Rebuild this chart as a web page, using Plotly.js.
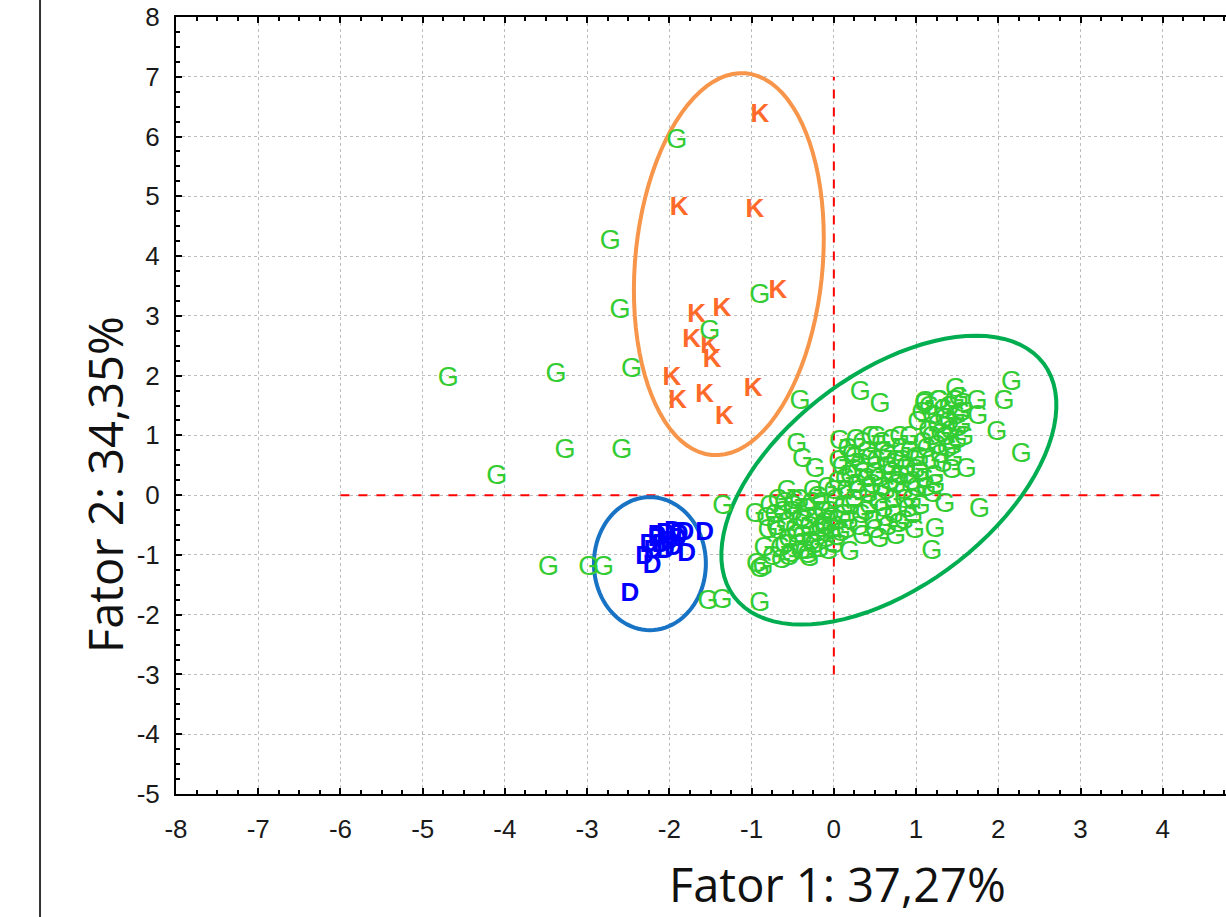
<!DOCTYPE html>
<html>
<head>
<meta charset="utf-8">
<script src="https://cdn.plot.ly/plotly-3.0.1.min.js"></script>
<style>
html,body{margin:0;padding:0;background:#fff;overflow:hidden;}
#chart{width:1300px;height:917px;}
</style>
</head>
<body>
<div id="chart"></div>
<script>
// ---- Data ----
const G_X = [
  -4.69,-3.38,-2.46,-4.10,-3.27,-2.58,-3.47,-2.98,-2.80,-2.72,-2.60,-1.91,-1.51,-0.90,
  -1.53,-1.36,-0.90,-0.94,-0.86,-1.35,-0.41,-0.45,-0.38,-0.23,0.07,0.32,0.56,
  2.16,2.07,1.98,2.28,1.77,1.61,1.35,1.23,1.19,1.75,1.74,1.48,1.27,1.11,
  -0.96,-0.90,0.19,-0.57,
  -0.72,-0.68,-0.65,-0.60,-0.58,-0.55,-0.52,-0.50,-0.47,-0.44,-0.42,-0.40,-0.38,-0.35,-0.33,
  -0.30,-0.28,-0.25,-0.22,-0.20,-0.18,-0.15,-0.12,-0.10,-0.08,-0.05,-0.03,0.00,0.02,0.05,
  0.05,0.08,0.10,0.12,0.15,0.18,0.20,0.22,0.25,0.28,0.30,0.32,0.35,0.38,0.40,0.42,0.45,
  0.48,0.50,0.52,0.55,0.58,0.60,0.62,0.65,0.68,0.70,0.72,0.75,0.78,0.80,0.82,0.85,0.88,
  0.90,0.92,0.95,0.98,1.00,
  1.02,1.05,1.08,1.10,1.12,1.15,1.18,1.20,1.22,1.25,1.28,1.30,1.32,1.35,1.38,1.40,1.42,
  1.45,1.48,1.50,1.52,1.55,1.58,
  -0.70,-0.62,-0.55,-0.48,-0.45,-0.36,-0.32,-0.27,-0.24,-0.16,-0.13,-0.07,-0.02,0.03,-0.60,
  -0.68,-0.40,-0.20,-0.10,0.00,
  0.06,0.10,0.14,0.17,0.20,0.24,0.27,0.30,0.33,0.36,0.40,0.43,0.46,0.50,0.52,0.55,0.58,0.60,
  0.63,0.66,0.70,0.73,0.76,0.80,0.83,0.86,0.90,0.93,0.96,0.99,0.45,0.25,0.65,0.85,0.15,0.35,
  0.55,0.75,0.95,1.00,
  1.04,1.07,1.10,1.13,1.16,1.19,1.23,1.26,1.29,1.33,1.36,1.40,1.44,1.47,1.50,1.54,1.57,1.43,
  1.20,1.05,
  -0.80,-0.85,-0.75,-0.78,-0.82,-0.64,-0.50,-0.30
];
const G_Y = [
  1.94,2.01,2.09,0.30,0.74,0.74,-1.22,-1.22,-1.22,4.23,3.08,5.92,2.73,3.33,
  -1.80,-1.77,-1.83,-1.17,-1.22,-0.20,1.56,0.84,0.59,0.42,0.89,1.71,1.51,
  1.87,1.56,1.03,0.67,-0.25,0.42,-0.17,-0.59,-0.95,1.30,1.56,1.75,1.56,1.54,
  -0.33,-1.25,-0.97,0.05,
  -0.35,-0.62,-0.90,-0.15,-0.48,-0.75,-1.00,-0.30,-0.58,-0.85,-0.10,-0.42,-0.70,-0.95,-0.25,
  -0.55,-0.80,0.05,-0.38,-0.65,-0.92,-0.15,-0.48,-0.75,0.10,-0.30,-0.60,-0.85,-0.10,-0.45,
  0.20,-0.65,0.45,-0.20,0.05,-0.45,0.30,0.65,-0.10,0.15,-0.55,0.50,0.85,-0.30,0.25,0.00,0.60,
  -0.45,0.35,0.95,-0.15,0.10,0.70,-0.40,0.45,0.20,0.90,-0.10,0.55,-0.50,0.30,0.75,0.05,0.45,
  -0.25,0.95,0.20,-0.60,0.60,
  1.20,0.35,0.85,1.50,0.10,1.05,0.55,1.30,0.30,0.80,1.55,1.00,0.50,1.25,0.75,1.45,1.05,
  0.60,1.30,0.90,1.60,1.15,0.95,
  -0.55,-0.30,-1.05,-0.12,-0.68,-0.45,-1.02,-0.15,-0.85,-0.58,-0.30,-0.95,-0.40,-0.72,-0.85,
  -0.10,-0.95,-0.05,-0.55,0.05,
  0.55,-0.35,0.25,0.75,-0.20,0.40,0.90,0.05,-0.35,0.35,0.70,-0.20,0.15,-0.60,0.55,0.25,0.85,-0.25,
  0.05,0.65,0.35,-0.35,0.15,0.95,0.55,-0.10,0.30,0.70,-0.35,0.40,0.95,0.60,-0.55,-0.45,-0.60,-0.70,
  -0.75,-0.70,-0.10,0.10,
  0.60,1.35,0.25,0.75,1.45,0.95,0.15,1.15,0.65,1.40,0.95,1.20,0.80,1.55,1.10,1.35,1.50,0.40,
  0.00,-0.20,
  -0.60,-0.90,-1.05,-0.20,-0.40,-1.10,-0.20,-1.08
];
const K_X = [-0.90,-1.88,-0.96,-0.68,-1.67,-1.36,-1.73,-1.51,-1.48,-1.97,-1.90,-1.57,-1.33,-0.98];
const K_Y = [6.36,4.80,4.77,3.40,3.01,3.10,2.59,2.48,2.26,1.96,1.56,1.67,1.30,1.76];
const D_X = [-1.57,-1.81,-1.79,-2.30,-2.21,-2.48,-2.15,-2.05,-1.95,-2.10,-2.00,-1.90,-2.20,-2.05,-1.95,-2.15,-2.25,-1.88];
const D_Y = [-0.64,-0.64,-1.00,-1.04,-1.20,-1.67,-0.70,-0.65,-0.62,-0.85,-0.80,-0.75,-0.95,-0.95,-0.90,-0.75,-0.85,-0.68];

const X_TICKS = [-8,-7,-6,-5,-4,-3,-2,-1,0,1,2,3,4];
const X_TICK_TEXT = ["-8","-7","-6","-5","-4","-3","-2","-1","0","1","2","3","4"];
const Y_TICKS = [-5,-4,-3,-2,-1,0,1,2,3,4,5,6,7,8];
const Y_TICK_TEXT = ["-5","-4","-3","-2","-1","0","1","2","3","4","5","6","7","8"];
const X_TITLE = "Fator 1: 37,27%";
const Y_TITLE = "Fator 2: 34,35%";

// ---- Geometry helpers ----
const PX_X = 82.25, PX_Y = 59.77; // pixels per unit on each axis
function ellipsePath(cx, cy, a, b, thetaDeg){
  const th = thetaDeg*Math.PI/180, n = 90;
  let p = "";
  for(let i=0;i<=n;i++){
    const t = 2*Math.PI*i/n;
    const dx = a*Math.cos(t)*Math.cos(th) - b*Math.sin(t)*Math.sin(th);
    const dy = a*Math.cos(t)*Math.sin(th) + b*Math.sin(t)*Math.cos(th);
    const x = cx + dx/PX_X, y = cy + dy/PX_Y;
    p += (i===0?"M":"L") + x.toFixed(4) + "," + y.toFixed(4);
  }
  return p + "Z";
}

const markFont = "Liberation Sans, Arial, sans-serif";
const traces = [
  {x:K_X, y:K_Y, mode:"text", text:K_X.map(()=> "K"), textposition:"middle center",
   textfont:{family:markFont, size:26, color:"#FF6A2A", weight:"bold"}, hoverinfo:"skip", cliponaxis:false},
  {x:G_X, y:G_Y, mode:"text", text:G_X.map(()=> "G"), textposition:"middle center",
   textfont:{family:markFont, size:27, color:"#33CC33"}, hoverinfo:"skip", cliponaxis:false},
  {x:D_X, y:D_Y, mode:"text", text:D_X.map(()=> "D"), textposition:"middle center",
   textfont:{family:markFont, size:26, color:"#0000FF", weight:"bold"}, hoverinfo:"skip", cliponaxis:false}
];

const axisCommon = {
  showline:true, linecolor:"#000", linewidth:2, mirror:"ticks",
  ticks:"inside", ticklen:6, tickwidth:2, tickcolor:"#000",
  showgrid:true, gridcolor:"#BDBDBD", griddash:"dot", gridwidth:1,
  zeroline:false, tickmode:"array",
  tickfont:{family:markFont, size:26, color:"#1a1a1a"},
  minor:{dtick:0.25, ticks:"inside", ticklen:4, tickwidth:2, tickcolor:"#000", showgrid:false}
};

const layout = {
  width:1300, height:917,
  margin:{l:176, r:55, t:17, b:123},
  paper_bgcolor:"#fff", plot_bgcolor:"#fff",
  showlegend:false,
  xaxis: Object.assign({}, axisCommon, {range:[-8,5], tickvals:X_TICKS, ticktext:X_TICK_TEXT, ticklabelstandoff:11}),
  yaxis: Object.assign({}, axisCommon, {range:[-5,8], tickvals:Y_TICKS, ticktext:Y_TICK_TEXT, ticklabelstandoff:9}),
  shapes:[
    {type:"line", xref:"x", yref:"y", x0:-6, x1:4, y0:0, y1:0, line:{color:"#FF0000", width:2, dash:"dash"}, layer:"between"},
    {type:"line", xref:"x", yref:"y", x0:0, x1:0, y0:-3, y1:7, line:{color:"#FF0000", width:2, dash:"dash"}, layer:"between"},
    {type:"path", xref:"x", yref:"y", path:ellipsePath(-1.277,3.865,191.6,93.8,84.9), line:{color:"#F7964A", width:4}, layer:"between"},
    {type:"path", xref:"x", yref:"y", path:ellipsePath(0.669,0.251,193.8,106.7,37.0), line:{color:"#00AD50", width:4}, layer:"between"},
    {type:"path", xref:"x", yref:"y", path:ellipsePath(-2.237,-1.146,66.5,56,90), line:{color:"#1873C5", width:4}, layer:"between"},
    {type:"line", xref:"paper", yref:"paper", x0:-0.1272, x1:-0.1272, y0:-0.2, y1:1.1, line:{color:"#333", width:2}}
  ],
  annotations:[
    {text:X_TITLE, xref:"paper", yref:"paper", x:0.619, y:-0.1158, xanchor:"center", yanchor:"middle", showarrow:false,
     font:{family:"Open Sans, sans-serif", size:47, color:"#111"}},
    {text:Y_TITLE, xref:"paper", yref:"paper", x:-0.0664, y:0.3977, xanchor:"center", yanchor:"middle", showarrow:false, textangle:-90,
     font:{family:"Open Sans, sans-serif", size:47, color:"#111"}}
  ]
};

Plotly.newPlot("chart", traces, layout, {displayModeBar:false, staticPlot:true});
</script>
</body>
</html>
